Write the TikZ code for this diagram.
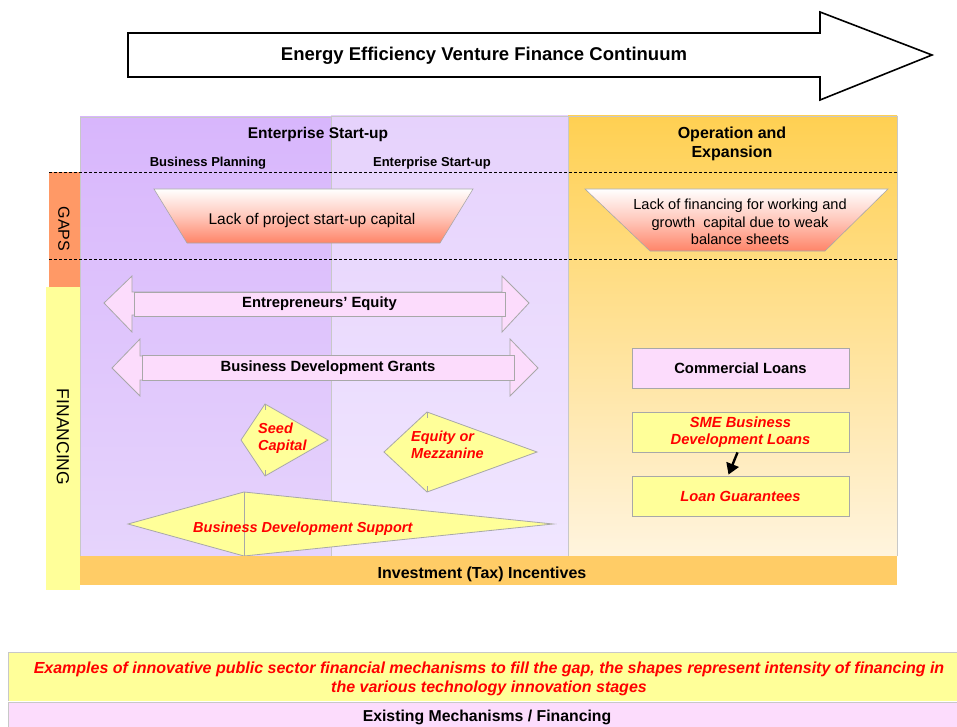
\documentclass[tikz,border=0pt]{standalone}
\usepackage{fontspec}
\setmainfont{Liberation Sans}
\usetikzlibrary{arrows.meta,calc}
\definecolor{purpDa}{HTML}{D8B6FC}
\definecolor{purpDb}{HTML}{E6D4FC}
\definecolor{purpLa}{HTML}{E6D2FC}
\definecolor{purpLb}{HTML}{F0E6FF}
\definecolor{orTop}{HTML}{FFD052}
\definecolor{orBot}{HTML}{FFF4DE}
\definecolor{incent}{HTML}{FFCC66}
\definecolor{gapcol}{HTML}{FF9966}
\definecolor{lyel}{HTML}{FFFF99}
\definecolor{pinkbox}{HTML}{FCDCFC}
\definecolor{salmon}{HTML}{FF8468}
\definecolor{edge}{HTML}{A8A8A8}
\definecolor{regedge}{HTML}{C8C8C8}
\begin{document}
\begin{tikzpicture}[x=1pt,y=-1pt,
  txt/.style={inner sep=0pt, yshift=-2pt},
  hdr/.style={txt, font=\bfseries\fontsize{15.5}{19}\selectfont, align=center},
  subhdr/.style={txt, font=\bfseries\fontsize{13}{15}\selectfont},
  plain/.style={txt, font=\fontsize{15.5}{18}\selectfont, align=center},
  redit/.style={txt, text=red, font=\bfseries\itshape\fontsize{14.5}{17.5}\selectfont, align=left},
  boxlbl/.style={font=\bfseries\fontsize{14.8}{17}\selectfont, inner sep=0pt},
  shapeedge/.style={draw=edge, line width=0.8pt},
  dsh/.style={dashed, line width=0.7pt, dash pattern=on 3pt off 2pt},
  side/.style={font=\fontsize{16}{18}\selectfont, rotate=-90, inner sep=0pt},
  rectbox/.style={draw=edge, line width=0.8pt, minimum width=217pt, minimum height=40pt, inner sep=0pt, align=center}
]
\useasboundingbox (0,0) rectangle (957,727);
\fill[white] (0,0) rectangle (957,727);

% top arrow
\draw[line width=1.6pt, fill=white] (128,33) -- (820,33) -- (820,12) -- (932,55) -- (820,100) -- (820,77) -- (128,77) -- cycle;
\node[txt, yshift=-1pt, font=\bfseries\fontsize{18.5}{20}\selectfont] (title) at (484,53) {Energy Efficiency Venture Finance Continuum};

% regions
\shade[top color=purpDa, bottom color=purpDb] (80,117) rectangle (331,556);
\shade[top color=purpLa, bottom color=purpLb] (331,116) rectangle (568,556);
\shade[top color=orTop, bottom color=orBot] (568,116) rectangle (897,556);
\draw[regedge, line width=0.6pt] (80,556) -- (80,117) -- (331,117);
\draw[regedge, line width=0.6pt] (331,556) -- (331,116) -- (568,116) -- (568,556);
\draw[regedge, line width=0.6pt] (568,116) -- (897,116) -- (897,556);

% side bars
\fill[gapcol] (49,172) rectangle (80,287);
\fill[lyel] (46,287) rectangle (80,590);
\node[side] (gaps) at (64,229) {GAPS};
\node[side, font=\fontsize{17.5}{19}\selectfont] (fin) at (63,437) {FINANCING};

% dashed lines
\draw[dsh] (49,172) -- (897,172);
\draw[dsh] (49,259) -- (897,259);

% headers
\node[hdr] (h1) at (318,132) {Enterprise Start-up};
\node[subhdr] (h2) at (208,161) {Business Planning};
\node[subhdr] (h3) at (432,161) {Enterprise Start-up};
\node[hdr, font=\bfseries\fontsize{16}{19}\selectfont] (h4) at (732,142) {Operation and\\Expansion};

% gap trapezoids
\shade[top color=white, bottom color=salmon, middle color=white!55!salmon, draw=edge, line width=0.6pt]
  (154,189) -- (473,189) -- (440,243) -- (187,243) -- cycle;
\node[plain] (gap1) at (312,218) {Lack of project start-up capital};
\shade[top color=white, bottom color=salmon, middle color=white!55!salmon, draw=edge, line width=0.6pt]
  (585,189) -- (888,189) -- (825,251) -- (650,251) -- cycle;
\node[plain, font=\fontsize{14.6}{17.5}\selectfont] (gap2) at (740,220) {Lack of financing for working and\\growth\ \ capital due to weak\\balance sheets};

% Entrepreneurs' equity double arrow
\draw[shapeedge, fill=pinkbox] (104,303) -- (132,276) -- (132,292) -- (502,292) -- (502,276) -- (529,303) -- (502,332) -- (502,315) -- (132,315) -- (132,332) -- cycle;
\node[boxlbl, draw=edge, line width=0.8pt, fill=pinkbox, minimum width=371pt, minimum height=24pt] (ee) at (319.5,304) {Entrepreneurs' Equity};

% Business development grants double arrow
\draw[shapeedge, fill=pinkbox] (112,368) -- (140,339) -- (140,356) -- (510,356) -- (510,339) -- (538,368) -- (510,396) -- (510,380) -- (140,380) -- (140,396) -- cycle;
\node[boxlbl, draw=edge, line width=0.8pt, fill=pinkbox, minimum width=372pt, minimum height=25pt] (bdg) at (328,368) {Business Development Grants};

% Seed capital
\draw[shapeedge, fill=lyel] (265,404) -- (328,440) -- (265,476) -- (241,440) -- cycle;
\draw[edge, line width=0.6pt] (265,404) -- (265,410) (265,470) -- (265,476);
\node[redit, anchor=west] (seed) at (258,436) {Seed\\Capital};

% Equity or mezzanine
\draw[shapeedge, fill=lyel] (427,412) -- (537,452) -- (427,492) -- (384,452) -- cycle;
\draw[edge, line width=0.6pt] (427,412) -- (427,418) (427,486) -- (427,492);
\node[redit, anchor=west] (eqm) at (411,443) {Equity or\\Mezzanine};

% Business development support
\draw[shapeedge, fill=lyel] (128,524) -- (244,492) -- (553,524) -- (244,556) -- cycle;
\draw[edge, line width=0.6pt] (244,492) -- (244,556);
\node[redit, anchor=west] (bds) at (193,527) {Business Development Support};

% Incentives bar
\fill[incent] (80,556) rectangle (897,585);
\node[txt, font=\bfseries\fontsize{16}{18}\selectfont] (inc) at (482,572) {Investment (Tax) Incentives};

% right boxes
\node[rectbox, fill=pinkbox, font=\bfseries\fontsize{14.8}{17}\selectfont] (cl) at (740.5,368) {Commercial Loans};
\node[rectbox, fill=lyel, text=red, font=\bfseries\itshape\fontsize{14.7}{17}\selectfont] (sme) at (740.5,432) {SME Business\\Development Loans};
\node[rectbox, fill=lyel, text=red, font=\bfseries\itshape\fontsize{14.7}{17}\selectfont] (lg) at (740.5,496) {Loan Guarantees};
\draw[line width=2.4pt, -{Triangle[length=11pt,width=13pt]}] ($(sme.south)+(-3,0)$) -- ($(lg.north)+(-12,-1)$);

% bottom legend
\fill[lyel] (8,652) rectangle (957,701);
\draw[regedge, line width=1pt] (8,701) -- (8,652) -- (957,652);
\node[redit, align=center, font=\bfseries\itshape\fontsize{16}{19}\selectfont] (leg1) at (489,677) {Examples of innovative public sector financial mechanisms to fill the gap, the shapes represent intensity of financing in\\the various technology innovation stages};
\fill[pinkbox] (8,703) rectangle (957,727);
\draw[regedge, line width=1pt] (8,727) -- (8,702) -- (957,702);
\node[inner sep=0pt, font=\bfseries\fontsize{15.8}{17}\selectfont] (leg2) at (487,717.5) {Existing Mechanisms / Financing};
\end{tikzpicture}
\end{document}
